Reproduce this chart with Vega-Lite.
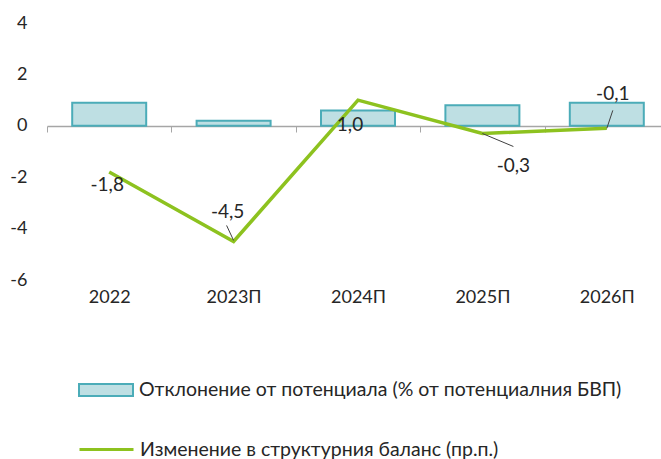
{
  "$schema": "https://vega.github.io/schema/vega-lite/v6.json",
  "width": 614,
  "height": 257,
  "autosize": {"type": "none"},
  "padding": {"left": 47, "top": 23, "right": 0, "bottom": 179},
  "config": {
    "font": "Lato",
    "view": {"stroke": null},
    "locale": {"number": {"decimal": ",", "thousands": " ", "grouping": [3], "currency": ["", ""], "minus": "-"}},
    "axis": {"labelFont": "Lato", "labelFontSize": 18, "labelColor": "#262626", "title": null, "grid": false},
    "legend": {"labelFont": "Lato", "labelFontSize": 19.5, "labelColor": "#262626", "padding": 0, "labelOffset": 5, "labelLimit": 600, "title": null}
  },
  "data": {
    "values": [
      {"year": "2022", "gap": 0.9, "bal": -1.8},
      {"year": "2023П", "gap": 0.2, "bal": -4.5},
      {"year": "2024П", "gap": 0.6, "bal": 1.0},
      {"year": "2025П", "gap": 0.8, "bal": -0.3},
      {"year": "2026П", "gap": 0.9, "bal": -0.1}
    ]
  },
  "encoding": {
    "x": {
      "field": "year", "type": "nominal", "sort": null,
      "scale": {"range": [0, 622], "paddingInner": 0, "paddingOuter": 0},
      "axis": {"orient": "bottom", "offset": -154, "tickBand": "extent", "tickSize": 6, "tickColor": "#A6A6A6", "domainColor": "#A6A6A6", "domainWidth": 1.5, "labelPadding": 156, "labelAngle": 0}
    }
  },
  "layer": [
    {
      "mark": {"type": "bar", "stroke": "#4BACB8", "strokeWidth": 2, "width": 74},
      "encoding": {
        "y": {"field": "gap", "type": "quantitative", "scale": {"domain": [-6, 4], "nice": false},
          "axis": {"values": [-6, -4, -2, 0, 2, 4], "domain": false, "ticks": false, "labelPadding": 20}},
        "fill": {"datum": "Отклонение от потенциала (% от потенциалния БВП)", "type": "nominal",
          "scale": {"range": ["#BEDFE3"]},
          "legend": {"orient": "none", "legendX": 31, "legendY": 339, "symbolType": "M-1,-0.22H1V0.22H-1Z", "symbolSize": 2916, "symbolStrokeColor": "#4BACB8", "symbolStrokeWidth": 2}}
      }
    },
    {
      "mark": {"type": "line", "strokeWidth": 3.5},
      "encoding": {
        "y": {"field": "bal", "type": "quantitative"},
        "stroke": {"datum": "Изменение в структурния баланс (пр.п.)", "type": "nominal",
          "scale": {"range": ["#8DC21F"]},
          "legend": {"orient": "none", "legendX": 31, "legendY": 398, "symbolType": "stroke", "symbolSize": 2916, "symbolStrokeWidth": 3}}
      }
    },
    {
      "transform": [{"filter": "datum.year == '2023П'"}],
      "mark": {"type": "rule", "color": "#404040", "strokeWidth": 1, "yOffset": -1, "x2Offset": -7, "y2Offset": -16},
      "encoding": {"y": {"field": "bal", "type": "quantitative"}, "x2": {"field": "year"}, "y2": {"field": "bal"}}
    },
    {
      "transform": [{"filter": "datum.year == '2025П'"}],
      "mark": {"type": "rule", "color": "#404040", "strokeWidth": 1, "x2Offset": 31, "y2Offset": 13},
      "encoding": {"y": {"field": "bal", "type": "quantitative"}, "x2": {"field": "year"}, "y2": {"field": "bal"}}
    },
    {
      "transform": [{"filter": "datum.year == '2026П'"}],
      "mark": {"type": "rule", "color": "#404040", "strokeWidth": 1, "x2Offset": 6, "y2Offset": -18},
      "encoding": {"y": {"field": "bal", "type": "quantitative"}, "x2": {"field": "year"}, "y2": {"field": "bal"}}
    },
    {
      "transform": [{"filter": "datum.year == '2022'"}],
      "mark": {"type": "text", "fontSize": 19, "color": "#262626", "dx": -2, "dy": 13},
      "encoding": {"y": {"field": "bal", "type": "quantitative"}, "text": {"field": "bal", "format": ".1f"}}
    },
    {
      "transform": [{"filter": "datum.year == '2023П'"}],
      "mark": {"type": "text", "fontSize": 19, "color": "#262626", "dx": -6, "dy": -29},
      "encoding": {"y": {"field": "bal", "type": "quantitative"}, "text": {"field": "bal", "format": ".1f"}}
    },
    {
      "transform": [{"filter": "datum.year == '2024П'"}],
      "mark": {"type": "text", "fontSize": 19, "color": "#262626", "dx": -8, "dy": 25},
      "encoding": {"y": {"field": "bal", "type": "quantitative"}, "text": {"field": "bal", "format": ".1f"}}
    },
    {
      "transform": [{"filter": "datum.year == '2025П'"}],
      "mark": {"type": "text", "fontSize": 19, "color": "#262626", "dx": 31, "dy": 32},
      "encoding": {"y": {"field": "bal", "type": "quantitative"}, "text": {"field": "bal", "format": ".1f"}}
    },
    {
      "transform": [{"filter": "datum.year == '2026П'"}],
      "mark": {"type": "text", "fontSize": 19, "color": "#262626", "dx": 6, "dy": -34},
      "encoding": {"y": {"field": "bal", "type": "quantitative"}, "text": {"field": "bal", "format": ".1f"}}
    }
  ]
}
